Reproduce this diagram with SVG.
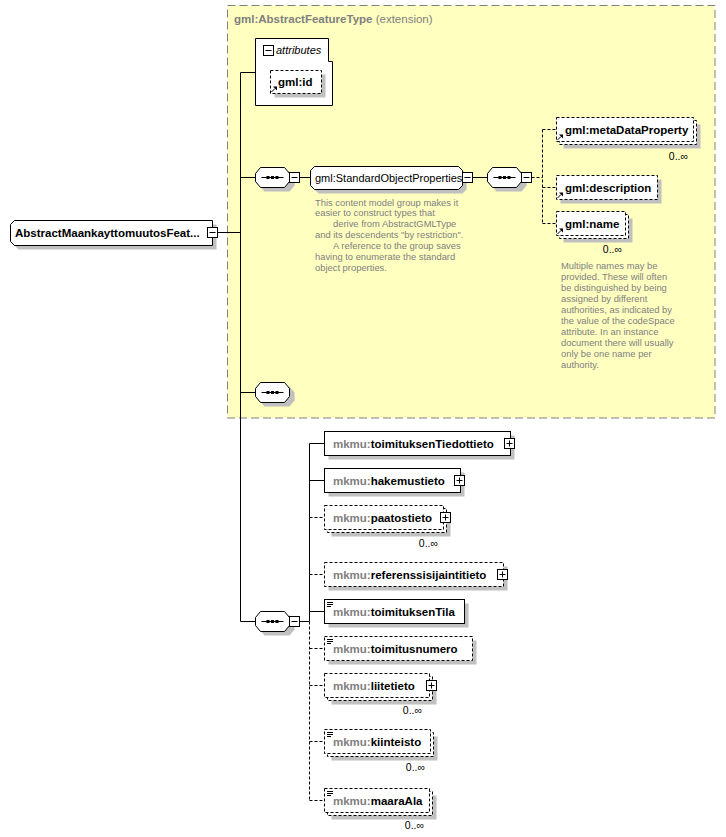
<svg xmlns="http://www.w3.org/2000/svg" width="726" height="837" viewBox="0 0 726 837">
<defs>
<style>
.lbl{font-family:"Liberation Sans",Arial,sans-serif;font-size:11.5px;font-weight:bold;fill:#000}
.pre{fill:#808080}
.nrm{font-family:"Liberation Sans",Arial,sans-serif;font-size:11px;fill:#000}
.desc{font-family:"Liberation Sans",Arial,sans-serif;font-size:9.4px;fill:#808080}
.occ{font-family:"Liberation Sans",Arial,sans-serif;font-size:10.5px;fill:#000;text-anchor:end}
.ttl{font-family:"Liberation Sans",Arial,sans-serif;font-size:11.5px;fill:#808080}
.box{fill:#fff;stroke:#000;stroke-width:1}
.dbox{fill:#fff;stroke:#000;stroke-width:1;stroke-dasharray:3,2}
.shd{fill:#c0c0c0;stroke:none}
.ln{stroke:#000;stroke-width:1;fill:none}
.dln{stroke:#000;stroke-width:1;fill:none;stroke-dasharray:3,2}
.btn{fill:#fff;stroke:#000;stroke-width:1}
</style>
<g id="seq">
<path class="shd" d="M9,4 H34 L39,10 V18 L34,24 H9 L4,18 V10 Z"/>
<path class="box" d="M5,0 H29 L34,6 V14 L29,20 H5 L0,14 V6 Z"/>
<path class="ln" d="M6,10 H28"/>
<rect x="11" y="8.5" width="3" height="3" fill="#000"/>
<rect x="15.5" y="8.5" width="3" height="3" fill="#000"/>
<rect x="20" y="8.5" width="3" height="3" fill="#000"/>
</g>
<g id="minus">
<rect class="btn" x="0" y="0" width="10" height="10"/>
<path class="ln" d="M2,5 H8"/>
</g>
<g id="plus">
<rect class="btn" x="0" y="0" width="10" height="10"/>
<path class="ln" d="M2,5 H8 M5,2 V8"/>
</g>
<g id="refarrow">
<path class="ln" d="M1,7 L4.5,3.5"/>
<path d="M2.5,1.5 H6.5 V5.5 Z" fill="#000"/>
</g>
<g id="simple">
<path class="ln" d="M0,0.5 H6 M0,2.5 H6 M0,4.5 H4"/>
</g>
</defs>

<rect width="726" height="837" fill="#fff"/>

<!-- extension container -->
<g id="extension">
<rect x="227.5" y="5.5" width="487.5" height="412.5" fill="#ffffc0" stroke="#808080" stroke-width="1" stroke-dasharray="8,4"/>
<text x="234" y="23" class="ttl"><tspan font-weight="bold">gml:AbstractFeatureType</tspan> (extension)</text>
</g>

<!-- connectors -->
<g id="connectors">
<path class="ln" d="M217.5,232.5 H240.5"/>
<path class="ln" d="M240.5,72.5 V621.5"/>
<path class="ln" d="M240.5,72.5 H255.5"/>
<path class="ln" d="M240.5,177.5 H255.5"/>
<path class="ln" d="M240.5,392.5 H255.5"/>
<path class="ln" d="M240.5,621.5 H255.5"/>
<path class="ln" d="M299.5,177.5 H310.5"/>
<path class="ln" d="M472.5,177.5 H487.5"/>
<path class="dln" d="M531.5,177.5 H542.5"/>
<path class="dln" d="M542.5,129.5 V223.5"/>
<path class="dln" d="M542.5,129.5 H556.5 M542.5,187.5 H556.5 M542.5,223.5 H556.5"/>
<path class="ln" d="M299.5,621.5 H309.5"/>
<path class="ln" d="M309.5,443.5 V621.5"/>
<path class="dln" d="M309.5,621.5 V800.5"/>
<path class="ln" d="M309.5,443.5 H324.5 M309.5,480.5 H324.5 M309.5,611.5 H324.5"/>
<path class="dln" d="M309.5,517.5 H324.5 M309.5,574.5 H324.5 M309.5,648.5 H324.5 M309.5,685.5 H324.5 M309.5,741.5 H324.5 M309.5,800.5 H324.5"/>
</g>

<!-- root -->
<g id="root">
<path class="shd" d="M18.5,224.5 H216.5 V249.5 H18.5 L14.5,245.5 V228.5 Z"/>
<path class="box" d="M14.5,220.5 H212.5 V245.5 H14.5 L10.5,241.5 V224.5 Z"/>
<text x="15" y="237" class="lbl">AbstractMaankayttomuutosFeat...</text>
<use href="#minus" x="207.5" y="227.5"/>
</g>

<!-- attributes -->
<g id="attributes">
<path class="box" d="M255.5,38.5 H328.5 V61.5 H332.5 V105.5 H255.5 Z"/>
<use href="#minus" x="263.5" y="45.5"/>
<text x="276" y="54" class="nrm" font-style="italic">attributes</text>
</g>
<g id="gml-id">
<rect class="shd" x="274.5" y="74.5" width="51" height="23"/>
<rect class="dbox" x="270.5" y="70.5" width="51" height="23"/>
<use href="#refarrow" x="270.5" y="85"/>
<text x="278" y="86" class="lbl">gml:id</text>
</g>

<!-- sequence 1 -->
<g id="seq1">
<use href="#seq" x="255.5" y="167.5"/>
<use href="#minus" x="289.5" y="172.5"/>
</g>

<!-- StandardObjectProperties group -->
<g id="StandardObjectProperties">
<path class="shd" d="M318.5,170.5 H462.5 L466.5,174.5 V189.5 L462.5,193.5 H318.5 L314.5,189.5 V174.5 Z"/>
<path class="box" d="M314.5,166.5 H458.5 L462.5,170.5 V185.5 L458.5,189.5 H314.5 L310.5,185.5 V170.5 Z"/>
<text x="315" y="181.5" class="nrm">gml:StandardObjectProperties</text>
<use href="#minus" x="462.5" y="172.5"/>
<text class="desc">
<tspan x="315" y="205.5">This content model group makes it</tspan>
<tspan x="315" y="216.4">easier to construct types that</tspan>
<tspan x="333" y="227.3">derive from AbstractGMLType</tspan>
<tspan x="315" y="238.2">and its descendents "by restriction".</tspan>
<tspan x="333" y="249.1">A reference to the group saves</tspan>
<tspan x="315" y="260">having to enumerate the standard</tspan>
<tspan x="315" y="270.9">object properties.</tspan>
</text>
</g>

<!-- sequence 2 -->
<g id="seq2">
<use href="#seq" x="487.5" y="167.5"/>
<use href="#minus" x="521.5" y="172.5"/>
</g>

<g id="metaDataProperty">
<rect class="shd" x="563.5" y="124.5" width="137" height="24"/>
<rect class="dbox" x="559.5" y="120.5" width="137" height="24"/>
<rect class="dbox" x="556.5" y="117.5" width="137" height="24"/>
<use href="#refarrow" x="556.5" y="133"/>
<text x="565" y="133.5" class="lbl">gml:metaDataProperty</text>
<text x="688" y="160" class="occ">0..∞</text>
</g>

<g id="description">
<rect class="shd" x="560.5" y="179.5" width="101" height="24"/>
<rect class="dbox" x="556.5" y="175.5" width="101" height="24"/>
<use href="#refarrow" x="556.5" y="191"/>
<text x="565" y="191.5" class="lbl">gml:description</text>
</g>

<g id="name">
<rect class="shd" x="563.5" y="218.5" width="69" height="24"/>
<rect class="dbox" x="559.5" y="214.5" width="69" height="24"/>
<rect class="dbox" x="556.5" y="211.5" width="69" height="24"/>
<use href="#refarrow" x="556.5" y="227"/>
<text x="565" y="227.5" class="lbl">gml:name</text>
<text x="622" y="253" class="occ">0..∞</text>
<text class="desc">
<tspan x="561" y="269">Multiple names may be</tspan>
<tspan x="561" y="280">provided.  These will often</tspan>
<tspan x="561" y="291">be distinguished by being</tspan>
<tspan x="561" y="302">assigned by different</tspan>
<tspan x="561" y="313">authorities, as indicated by</tspan>
<tspan x="561" y="324">the value of the codeSpace</tspan>
<tspan x="561" y="335">attribute.  In an instance</tspan>
<tspan x="561" y="346">document there will usually</tspan>
<tspan x="561" y="357">only be one name per</tspan>
<tspan x="561" y="368">authority.</tspan>
</text>
</g>

<!-- sequence 3 (empty) -->
<g id="seq3">
<use href="#seq" x="255.5" y="382.5"/>
</g>

<!-- sequence 4 -->
<g id="seq4">
<use href="#seq" x="255.5" y="611.5"/>
<use href="#minus" x="289.5" y="616.5"/>
</g>

<g id="toimituksenTiedottieto">
<rect class="shd" x="328.5" y="435.5" width="186" height="24"/>
<rect class="box" x="324.5" y="431.5" width="186" height="24"/>
<text x="333" y="447.5" class="lbl"><tspan class="pre">mkmu:</tspan>toimituksenTiedottieto</text>
<use href="#plus" x="504.5" y="438.5"/>
</g>

<g id="hakemustieto">
<rect class="shd" x="328.5" y="472.5" width="136" height="24"/>
<rect class="box" x="324.5" y="468.5" width="136" height="24"/>
<text x="333" y="484.5" class="lbl"><tspan class="pre">mkmu:</tspan>hakemustieto</text>
<use href="#plus" x="454.5" y="475.5"/>
</g>

<g id="paatostieto">
<rect class="shd" x="331.5" y="512.5" width="119" height="24"/>
<rect class="dbox" x="327.5" y="508.5" width="119" height="24"/>
<rect class="dbox" x="324.5" y="505.5" width="119" height="24"/>
<text x="333" y="521.5" class="lbl"><tspan class="pre">mkmu:</tspan>paatostieto</text>
<use href="#plus" x="440.5" y="512.5"/>
<text x="438" y="547" class="occ">0..∞</text>
</g>

<g id="referenssisijaintitieto">
<rect class="shd" x="328.5" y="566.5" width="179" height="24"/>
<rect class="dbox" x="324.5" y="562.5" width="179" height="24"/>
<text x="333" y="578.5" class="lbl"><tspan class="pre">mkmu:</tspan>referenssisijaintitieto</text>
<use href="#plus" x="497.5" y="569.5"/>
</g>

<g id="toimituksenTila">
<rect class="shd" x="328.5" y="603.5" width="140" height="24"/>
<rect class="box" x="324.5" y="599.5" width="140" height="24"/>
<use href="#simple" x="327" y="602"/>
<text x="333" y="615.5" class="lbl"><tspan class="pre">mkmu:</tspan>toimituksenTila</text>
</g>

<g id="toimitusnumero">
<rect class="shd" x="328.5" y="640.5" width="148" height="24"/>
<rect class="dbox" x="324.5" y="636.5" width="148" height="24"/>
<use href="#simple" x="327" y="639"/>
<text x="333" y="652.5" class="lbl"><tspan class="pre">mkmu:</tspan>toimitusnumero</text>
</g>

<g id="liitetieto">
<rect class="shd" x="331.5" y="680.5" width="105" height="24"/>
<rect class="dbox" x="327.5" y="676.5" width="105" height="24"/>
<rect class="dbox" x="324.5" y="673.5" width="105" height="24"/>
<text x="333" y="689.5" class="lbl"><tspan class="pre">mkmu:</tspan>liitetieto</text>
<use href="#plus" x="426.5" y="680.5"/>
<text x="422" y="714" class="occ">0..∞</text>
</g>

<g id="kiinteisto">
<rect class="shd" x="331.5" y="736.5" width="106" height="24"/>
<rect class="dbox" x="327.5" y="732.5" width="106" height="24"/>
<rect class="dbox" x="324.5" y="729.5" width="106" height="24"/>
<use href="#simple" x="327" y="732"/>
<text x="333" y="745.5" class="lbl"><tspan class="pre">mkmu:</tspan>kiinteisto</text>
<text x="425" y="771" class="occ">0..∞</text>
</g>

<g id="maaraAla">
<rect class="shd" x="331.5" y="795.5" width="105" height="24"/>
<rect class="dbox" x="327.5" y="791.5" width="105" height="24"/>
<rect class="dbox" x="324.5" y="788.5" width="105" height="24"/>
<use href="#simple" x="327" y="791"/>
<text x="333" y="804.5" class="lbl"><tspan class="pre">mkmu:</tspan>maaraAla</text>
<text x="424" y="829" class="occ">0..∞</text>
</g>
</svg>
